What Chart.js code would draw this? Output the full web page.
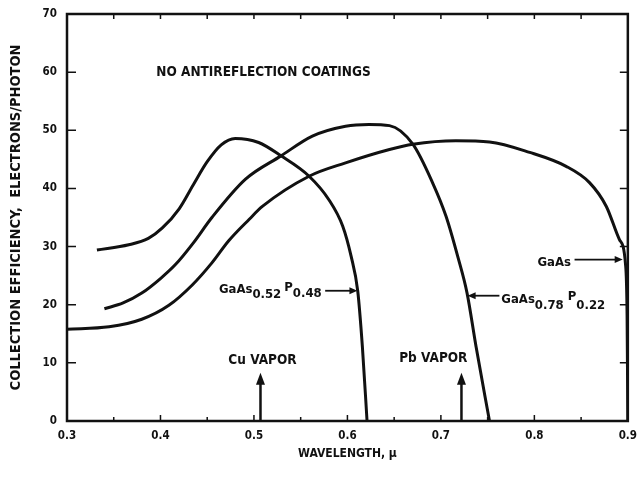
<!DOCTYPE html>
<html>
<head>
<meta charset="utf-8">
<script src="https://cdn.jsdelivr.net/npm/chart.js@4"></script>
<style>
html, body { margin: 0; padding: 0; background: #fff; }
</style>
</head>
<body>
<canvas id="chart" width="637" height="477"></canvas>
<script>
/* global Chart */
const FONT = '"DejaVu Sans Condensed", "Liberation Sans Narrow", "DejaVu Sans", sans-serif';
const INK = '#111';

// wavelength (micron) / collection efficiency (electrons per photon)
const p48X = [0.332, 0.366, 0.387, 0.402, 0.420, 0.435, 0.450, 0.465, 0.480, 0.505, 0.529, 0.559, 0.580, 0.595, 0.604, 0.611, 0.616, 0.621];
const p48Y = [29.4, 30.3, 31.4, 33.2, 36.5, 40.6, 44.6, 47.5, 48.6, 47.9, 45.6, 42.1, 38.1, 33.5, 28.3, 22.4, 12.8, 0];

const p22X = [0.340, 0.360, 0.380, 0.400, 0.416, 0.435, 0.455, 0.491, 0.529, 0.5625, 0.598, 0.623, 0.645, 0.670, 0.691, 0.7055, 0.718, 0.728, 0.7376, 0.752];
const p22Y = [19.3, 20.3, 22.0, 24.5, 26.9, 30.6, 35.0, 41.6, 45.6, 49.0, 50.7, 51.0, 50.8, 47.6, 41.0, 35.2, 28.3, 22.0, 12.8, 0];

const gaasX = [0.300, 0.345, 0.380, 0.409, 0.434, 0.455, 0.473, 0.495, 0.509, 0.559, 0.598, 0.645, 0.670, 0.716, 0.752, 0.795, 0.834, 0.859, 0.877, 0.891, 0.8975, 0.8992, 0.9];
const gaasY = [15.8, 16.2, 17.5, 19.9, 23.4, 27.2, 31.0, 34.7, 36.9, 42.1, 44.4, 46.7, 47.6, 48.2, 48.0, 46.2, 43.8, 41.0, 36.9, 31.2, 27.0, 18.0, 0];

const seriesNames = ['GaAs0.52P0.48', 'GaAs0.78P0.22', 'GaAs'];

const xTicks = [0.3, 0.4, 0.5, 0.6, 0.7, 0.8, 0.9];
const xMinor = [0.35, 0.45, 0.55, 0.65, 0.75, 0.85];
const yTicks = [0, 10, 20, 30, 40, 50, 60, 70];

const laserNames = ['Cu VAPOR', 'Pb VAPOR'];
const laserLines = [0.507, 0.722];

const toPoints = (xs, ys) => xs.map((v, i) => ({x: v, y: ys[i]}));

function arrowHead(ctx, x, y, angle, len, half) {
  ctx.save();
  ctx.translate(x, y);
  ctx.rotate(angle);
  ctx.beginPath();
  ctx.moveTo(0, 0);
  ctx.lineTo(-len, -half);
  ctx.lineTo(-len, half);
  ctx.closePath();
  ctx.fill();
  ctx.restore();
}

// text with lowered composition numbers, e.g. GaAs 0.52 P 0.48
function drawFormula(ctx, x, y, parts) {
  let cx = x;
  parts.forEach(p => {
    ctx.fillText(p.t, cx, y + p.dy);
    cx += ctx.measureText(p.t).width + (p.gap || 0);
  });
}

const framePlugin = {
  id: 'frame',
  afterDatasetsDraw(chart) {
    const {ctx, chartArea: a, scales: {x, y}} = chart;
    ctx.save();
    ctx.strokeStyle = INK;
    ctx.lineWidth = 1.5;
    ctx.beginPath();
    xTicks.concat(xMinor).forEach(v => {
      const px = x.getPixelForValue(v);
      const len = xTicks.includes(v) ? 6 : 4;
      ctx.moveTo(px, a.bottom); ctx.lineTo(px, a.bottom - len);
      ctx.moveTo(px, a.top); ctx.lineTo(px, a.top + 5);
    });
    yTicks.forEach(v => {
      const py = y.getPixelForValue(v);
      ctx.moveTo(a.left, py); ctx.lineTo(a.left + 9, py);
      ctx.moveTo(a.right, py); ctx.lineTo(a.right - 8, py);
    });
    ctx.stroke();
    ctx.lineWidth = 2.5;
    ctx.strokeRect(a.left, a.top, a.right - a.left, a.bottom - a.top);
    ctx.restore();
  }
};

const labelPlugin = {
  id: 'labels',
  afterDatasetsDraw(chart) {
    const {ctx, scales: {x, y}} = chart;
    ctx.save();
    ctx.fillStyle = INK;
    ctx.strokeStyle = INK;
    ctx.textBaseline = 'alphabetic';
    ctx.font = `bold 13.5px ${FONT}`;

    ctx.fillText('NO ANTIREFLECTION COATINGS', x.getPixelForValue(0.3955), y.getPixelForValue(59.3));

    // laser lines
    ctx.lineWidth = 2.5;
    laserLines.forEach((w, i) => {
      const px = x.getPixelForValue(w);
      const top = y.getPixelForValue(8.3);
      ctx.beginPath();
      ctx.moveTo(px, y.getPixelForValue(0));
      ctx.lineTo(px, top + 8);
      ctx.stroke();
      arrowHead(ctx, px, top, -Math.PI / 2, 12, 4.5);
      ctx.textAlign = i === 0 ? 'center' : 'right';
      ctx.fillText(laserNames[i], i === 0 ? px + 2 : px + 6, y.getPixelForValue(i === 0 ? 9.8 : 10.2));
    });
    ctx.textAlign = 'left';

    // series labels
    ctx.font = `bold 13px ${FONT}`;
    drawFormula(ctx, x.getPixelForValue(0.4625), y.getPixelForValue(22.1), [
      {t: 'GaAs', dy: 0}, {t: '0.52', dy: 5, gap: 3}, {t: 'P', dy: -2}, {t: '0.48', dy: 4}
    ]);
    drawFormula(ctx, x.getPixelForValue(0.7647), y.getPixelForValue(20.3), [
      {t: 'GaAs', dy: 0}, {t: '0.78', dy: 6, gap: 4}, {t: 'P', dy: -3}, {t: '0.22', dy: 6}
    ]);
    ctx.fillText('GaAs', x.getPixelForValue(0.8033), y.getPixelForValue(26.6));

    ctx.lineWidth = 1.8;
    const arrows = [[0.5762, 0.6107, 22.4], [0.7626, 0.7286, 21.55], [0.843, 0.8945, 27.76]];
    arrows.forEach(([from, to, v]) => {
      const x0 = x.getPixelForValue(from);
      const x1 = x.getPixelForValue(to);
      const py = y.getPixelForValue(v);
      const dir = x1 > x0 ? 1 : -1;
      ctx.beginPath();
      ctx.moveTo(x0, py);
      ctx.lineTo(x1 - dir * 6, py);
      ctx.stroke();
      arrowHead(ctx, x1, py, dir > 0 ? 0 : Math.PI, 8, 3.5);
    });
    ctx.restore();
  }
};

function createChart(canvas) {
  const curves = [[p48X, p48Y], [p22X, p22Y], [gaasX, gaasY]];
  const datasets = curves.map((c, i) => ({
    label: seriesNames[i],
    data: toPoints(c[0], c[1]),
    borderColor: INK,
    borderWidth: 3,
    pointRadius: 0,
    fill: false,
    cubicInterpolationMode: 'monotone'
  }));
  const tickFont = {family: FONT, size: 11.5, weight: 'bold'};
  return new Chart(canvas.getContext('2d'), {
    type: 'line',
    data: {datasets},
    plugins: [framePlugin, labelPlugin],
    options: {
      responsive: false,
      animation: false,
      devicePixelRatio: 1,
      layout: {padding: {left: 0, right: 9, top: 14, bottom: 0}},
      plugins: {legend: {display: false}, tooltip: {enabled: false}},
      scales: {
        x: {
          type: 'linear',
          min: 0.3,
          max: 0.9,
          afterBuildTicks: s => { s.ticks = xTicks.map(v => ({value: v})); },
          afterFit: s => { s.height = 56; },
          grid: {display: false},
          border: {display: false},
          ticks: {color: INK, font: tickFont, padding: 0, maxRotation: 0, callback: v => v.toFixed(1)},
          title: {display: true, text: 'WAVELENGTH, \u03bc', color: INK, font: {family: FONT, size: 12, weight: 'bold'}, padding: {top: 12, bottom: 16}}
        },
        y: {
          min: 0,
          max: 70,
          afterBuildTicks: s => { s.ticks = yTicks.map(v => ({value: v})); },
          afterFit: s => { s.width = 67; },
          grid: {display: false},
          border: {display: false},
          ticks: {color: INK, font: tickFont, padding: 2},
          title: {display: true, text: 'COLLECTION EFFICIENCY,  ELECTRONS/PHOTON', color: INK, font: {family: FONT, size: 14.5, weight: 'bold'}, padding: {top: 8, bottom: 0}}
        }
      }
    }
  });
}

createChart(document.getElementById('chart'));
</script>
</body>
</html>
